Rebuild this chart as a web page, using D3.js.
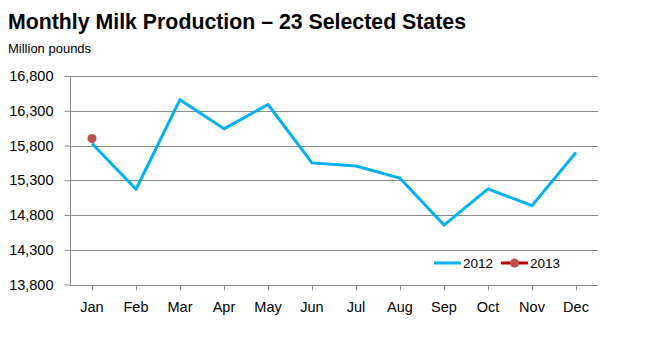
<!DOCTYPE html>
<html>
<head>
<meta charset="utf-8">
<script src="https://cdn.jsdelivr.net/npm/d3@7"></script>
<style>
  html, body { margin: 0; padding: 0; background: #fff; }
  svg { display: block; font-family: "Liberation Sans", Arial, sans-serif; }
</style>
</head>
<body>
<svg id="chart" width="661" height="347"></svg>
<script>
// Monthly milk production, 23 selected states (million pounds)
const months = ["Jan", "Feb", "Mar", "Apr", "May", "Jun", "Jul", "Aug", "Sep", "Oct", "Nov", "Dec"];
const production2012 = [15830, 15170, 16460, 16040, 16390, 15550, 15505, 15330, 14655, 15175, 14935, 15700];
const production2013 = [15900];
const yTicks = [13800, 14300, 14800, 15300, 15800, 16300, 16800];

const svg = d3.select("#chart");
const margin = { left: 70, right: 63, top: 76, bottom: 62.5 };
const W = 661, H = 347;

const x = d3.scaleBand().domain(months).range([margin.left, W - margin.right]);
const y = d3.scaleLinear().domain([13800, 16800]).range([H - margin.bottom, margin.top]);
const cx = m => x(m) + x.bandwidth() / 2;

// Title and unit
svg.append("text").attr("x", 8).attr("y", 29)
  .attr("font-size", 21.3).attr("font-weight", "bold").attr("fill", "#000")
  .text("Monthly Milk Production \u2013 23 Selected States");
svg.append("text").attr("x", 8).attr("y", 53)
  .attr("font-size", 13).attr("fill", "#000")
  .text("Million pounds");

// Horizontal gridlines
svg.append("g").selectAll("line").data(yTicks.slice(1)).join("line")
  .attr("x1", margin.left).attr("x2", W - margin.right)
  .attr("y1", d => Math.round(y(d)) + 0.5).attr("y2", d => Math.round(y(d)) + 0.5)
  .attr("stroke", "#8c8c8c").attr("stroke-width", 1);

// Y axis
const yAxis = svg.append("g")
  .attr("transform", `translate(${margin.left + 0.5},0)`)
  .call(d3.axisLeft(y).tickValues(yTicks).tickFormat(d3.format(",")).tickSize(6).tickPadding(11));
yAxis.select(".domain").attr("stroke", "#8c8c8c").attr("d", `M0,${y(13800)}V${y(16800)}`);
yAxis.selectAll(".tick line").attr("stroke", "#8c8c8c");
yAxis.selectAll(".tick text").attr("font-size", 14.5).attr("fill", "#000")
  .attr("font-family", "Liberation Sans, Arial, sans-serif");

// X axis with ticks at month centres
const xAxisG = svg.append("g").attr("transform", `translate(0,${Math.round(y(13800)) + 0.5})`);
xAxisG.append("line").attr("x1", margin.left).attr("x2", W - margin.right)
  .attr("stroke", "#8c8c8c");
xAxisG.selectAll("line.tk").data(months).join("line").attr("class", "tk")
  .attr("x1", d => Math.round(cx(d)) + 0.5).attr("x2", d => Math.round(cx(d)) + 0.5)
  .attr("y1", 0).attr("y2", 5).attr("stroke", "#8c8c8c");
xAxisG.selectAll("text").data(months).join("text")
  .attr("x", d => cx(d)).attr("y", 26.5)
  .attr("text-anchor", "middle").attr("font-size", 14.5).attr("fill", "#000")
  .text(d => d);

// 2012 series
const line = d3.line().x((d, i) => cx(months[i])).y(d => y(d));
svg.append("path").datum(production2012)
  .attr("d", line).attr("fill", "none")
  .attr("stroke", "#00b0f0").attr("stroke-width", 3).attr("stroke-linejoin", "round");

// 2013 series
svg.append("path").datum(production2013)
  .attr("d", line).attr("fill", "none")
  .attr("stroke", "#c00000").attr("stroke-width", 3);
svg.append("g").selectAll("circle").data(production2013).join("circle")
  .attr("cx", (d, i) => cx(months[i])).attr("cy", d => y(d))
  .attr("r", 4.5).attr("fill", "#c0504d");

// Legend
const legend = svg.append("g").attr("transform", "translate(434,263)");
legend.append("line").attr("x1", 0).attr("x2", 27).attr("stroke", "#00b0f0").attr("stroke-width", 3);
legend.append("text").attr("x", 29).attr("y", 5).attr("font-size", 13.5).attr("fill", "#000").text("2012");
legend.append("line").attr("x1", 67).attr("x2", 94).attr("stroke", "#c00000").attr("stroke-width", 3);
legend.append("circle").attr("cx", 80.5).attr("cy", 0).attr("r", 4.5).attr("fill", "#c0504d");
legend.append("text").attr("x", 96).attr("y", 5).attr("font-size", 13.5).attr("fill", "#000").text("2013");
</script>
</body>
</html>
